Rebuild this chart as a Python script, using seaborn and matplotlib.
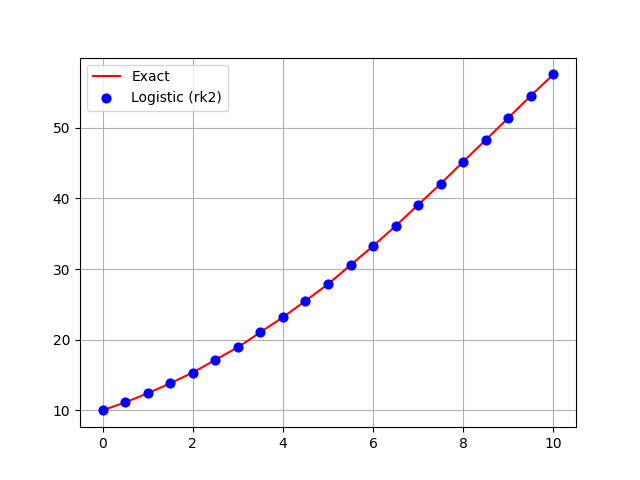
import matplotlib
matplotlib.use("Agg")
import matplotlib.pyplot as plt
import seaborn as sns
import pandas as pd

t_values = [0, 0.5, 1, 1.5, 2, 2.5, 3, 3.5, 4, 4.5, 5, 5.5, 6, 6.5, 7, 7.5, 8, 8.5, 9, 9.5, 10]
exact_values = [10.0, 11.13, 12.41, 13.83, 15.35, 17.15, 18.93, 21.06, 23.18, 25.5, 27.86,
                30.57, 33.26, 36.1, 39.1, 42.08, 45.2, 48.3, 51.4, 54.55, 57.55]
rk2_values = [10.0, 11.13, 12.41, 13.83, 15.35, 17.15, 18.93, 21.06, 23.18, 25.5, 27.86,
              30.57, 33.26, 36.1, 39.1, 42.08, 45.2, 48.3, 51.4, 54.55, 57.55]

df = pd.DataFrame({"t": t_values, "exact": exact_values, "rk2": rk2_values})

fig, ax = plt.subplots(figsize=(6.4, 4.8), dpi=100)
sns.lineplot(data=df, x="t", y="exact", color="red", label="Exact", ax=ax, linewidth=1.5)
sns.scatterplot(data=df, x="t", y="rk2", color="blue", edgecolor="blue", s=40,
                label="Logistic (rk2)", ax=ax, zorder=3, linewidth=1)
ax.set_xlabel("")
ax.set_ylabel("")
ax.grid(True)
ax.legend(loc="upper left")
fig.savefig("out.png", dpi=100)
